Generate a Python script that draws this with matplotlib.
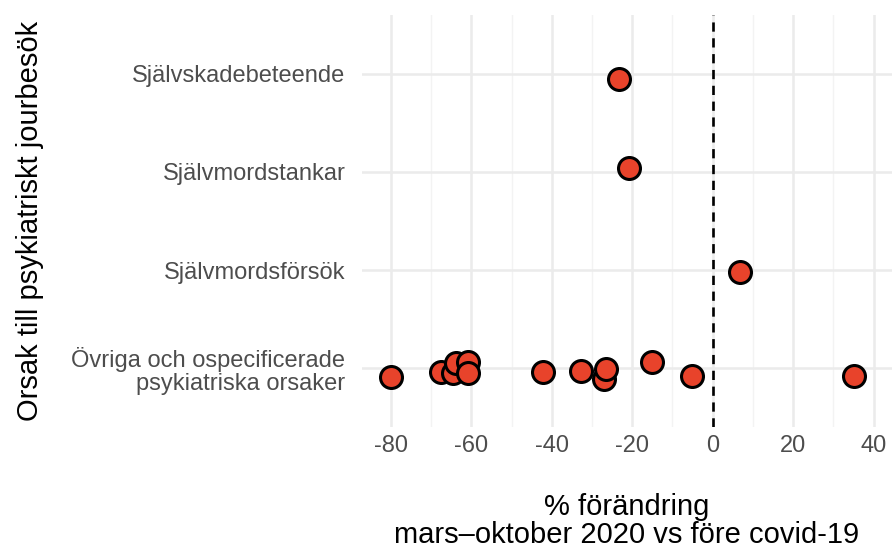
import numpy as np
import matplotlib.pyplot as plt
from matplotlib.ticker import FuncFormatter

plt.rcParams['font.family'] = ['Liberation Sans', 'DejaVu Sans']

# categories, bottom to top
categories = ["Övriga och ospecificerade\npsykiatriska orsaker",
              "Självmordsförsök", "Självmordstankar", "Självskadebeteende"]

# % change per diagnosis group, with the vertical jitter
cat_idx = [0] * 13 + [1, 2, 3]
pct_change = [-80.0, -67.5, -64.6, -63.8, -60.8, -60.8, -42.2, -32.7,
              -27.0, -26.5, -15.0, -5.1, 35.2,
              6.7, -20.7, -23.4]
jitter = [-0.09, -0.04, -0.05, 0.05, 0.06, -0.05, -0.04, -0.03,
          -0.11, -0.01, 0.06, -0.08, -0.08,
          -0.015, 0.045, -0.05]

x_ticks = [-80, -60, -40, -20, 0, 20, 40]
x_minor = [-70, -50, -30, -10, 10, 30]

fig = plt.figure(figsize=(8.92, 5.54), dpi=100)
ax = fig.add_axes([362 / 892, 1 - 427 / 554, 530 / 892, 412 / 554])

ypos = np.array(cat_idx) + np.array(jitter)
ax.scatter(pct_change, ypos, s=250, facecolor="#E8432B", edgecolor="black",
           linewidth=2.2, zorder=3)
ax.axvline(0, color="black", linestyle=(0, (3.5, 2.5)), linewidth=1.9, zorder=2)

ax.set_xlim(-87.2, 44.6)
ax.set_ylim(-0.6, 3.6)
ax.set_xticks(x_ticks)
ax.set_xticks(x_minor, minor=True)
ax.xaxis.set_major_formatter(FuncFormatter(lambda v, p: "%d" % v))
ax.set_yticks(range(len(categories)))
ax.set_yticklabels(categories, ha="right", linespacing=1.05)

ax.grid(which="major", color="#EBEBEB", linewidth=1.8)
ax.grid(which="minor", axis="x", color="#F3F3F3", linewidth=1.0)
ax.set_axisbelow(True)
for s in ax.spines.values():
    s.set_visible(False)
ax.tick_params(which="both", length=0)
ax.tick_params(axis="x", labelsize=17, colors="#4D4D4D", pad=6)
ax.tick_params(axis="y", labelsize=17, colors="#4D4D4D", pad=12)

ax.set_xlabel("% förändring\nmars–oktober 2020 vs före covid-19",
              fontsize=21, labelpad=26, linespacing=1.0)
ax.set_ylabel("Orsak till psykiatriskt jourbesök", fontsize=21, labelpad=20)

fig.savefig("out.png", dpi=100)
